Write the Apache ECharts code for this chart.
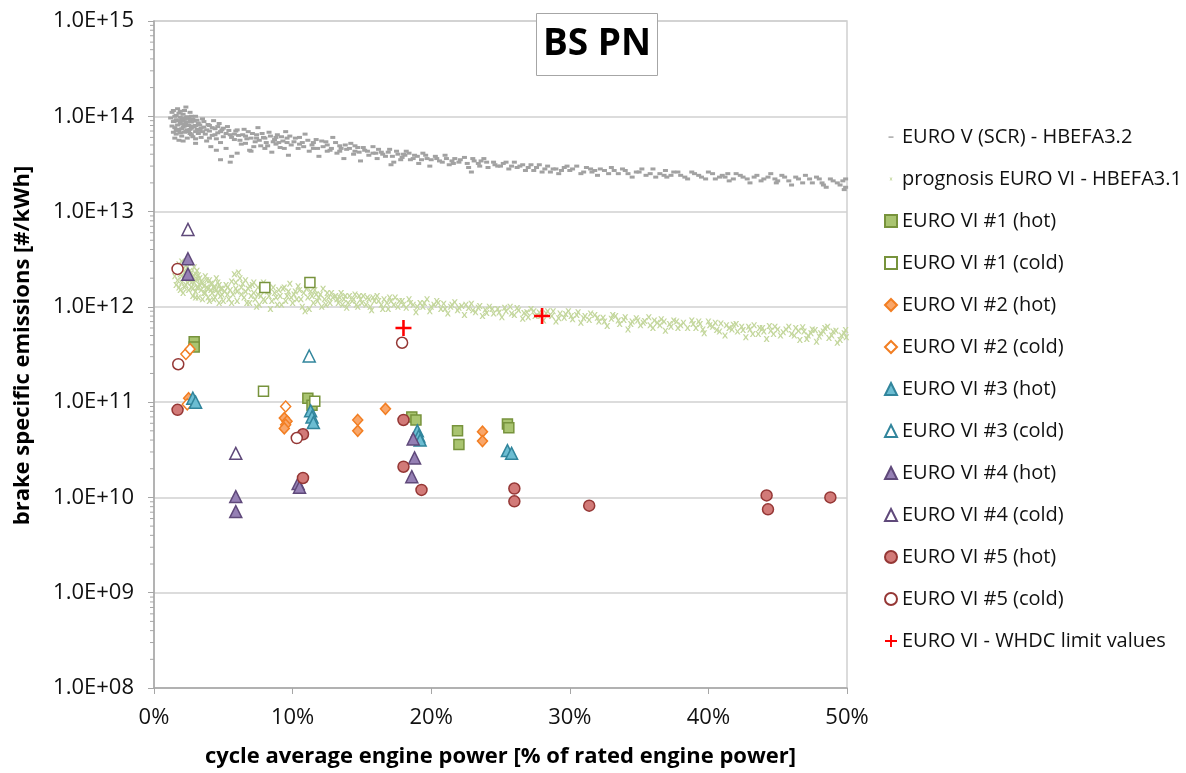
<!DOCTYPE html>
<html><head><meta charset="utf-8">
<script src="https://cdn.jsdelivr.net/npm/echarts@6/dist/echarts.min.js"></script>
<style>html,body{margin:0;padding:0;background:#fff}#c{width:1186px;height:773px}</style>
</head><body><div id="c"></div>
<script>
// ---------- data: x = cycle average engine power [% of rated], y = BS PN [#/kWh] ----------
const xTicks = [0, 10, 20, 30, 40, 50];
const yTickExponents = [8, 9, 10, 11, 12, 13, 14, 15];

const euroV_HBEFA32 = [
[1.3,1.1e14],[1.4,8.8e13],[1.5,1.0e14],[1.5,7.6e13],[1.6,6.5e13],[1.6,9.2e13],[1.7,1.2e14],[1.7,8.1e13],[1.8,7.0e13],[1.8,5.6e13],
[1.9,9.8e13],[1.9,8.6e13],[2.0,7.4e13],[2.0,6.2e13],[2.1,1.05e14],[2.1,9.0e13],[2.2,7.9e13],[2.2,6.8e13],[2.3,1.25e14],[2.3,8.4e13],
[2.4,7.2e13],[2.4,5.9e13],[2.5,9.5e13],[2.5,8.0e13],[2.6,6.6e13],[2.6,1.1e14],[2.7,8.7e13],[2.7,7.5e13],[2.8,6.1e13],[2.8,9.3e13],
[2.9,7.8e13],[3.0,1.0e14],[3.0,6.9e13],[3.0,5.2e13],[1.6,7.1e13],[2.0,8.3e13],[2.4,9.9e13],[2.7,6.4e13],[1.8,9.0e13],[2.2,1.15e14],
[1.2,9.6e13],[1.3,7.9e13],[1.4,1.15e14],[1.5,8.9e13],[1.6,1.02e14],[1.7,7.3e13],[1.8,1.08e14],[1.9,6.7e13],[2.0,9.5e13],[2.1,7.7e13],
[2.2,9.3e13],[2.3,7.0e13],[2.4,8.7e13],[2.5,6.9e13],[2.6,9.0e13],[2.7,1.0e14],[2.8,7.9e13],[2.9,8.9e13],[3.0,8.0e13],[3.1,9.1e13],
[3.2,6.6e13],[3.3,8.1e13],[3.4,7.5e13],[1.5,5.9e13],[1.9,1.13e14],[2.3,9.7e13],[2.6,7.3e13],[3.0,5.8e13],[1.4,6.8e13],[2.1,5.5e13],
[3.2,8.5e13],[3.3,7.1e13],[3.4,6.0e13],[3.5,9.4e13],[3.6,7.7e13],[3.7,6.5e13],[3.8,5.5e13],[3.9,8.2e13],[4.0,7.0e13],[4.1,4.8e13],
[4.2,6.3e13],[4.3,9.0e13],[4.4,7.4e13],[4.5,5.8e13],[4.6,6.7e13],[4.7,8.4e13],[4.8,5.3e13],[4.9,7.2e13],[5.0,6.1e13],[5.2,4.6e13],
[5.3,7.8e13],[5.5,6.4e13],[5.6,3.8e13],[5.8,5.7e13],[5.9,7.0e13],[4.8,3.5e13],[5.5,3.3e13],[3.5,6.9e13],[4.0,5.9e13],[3.1,7.3e13],
[3.6,8.8e13],[3.8,7.2e13],[4.0,8.0e13],[4.2,7.6e13],[4.4,6.4e13],[4.6,7.8e13],[4.8,6.9e13],[5.0,7.5e13],[5.2,6.6e13],[5.4,7.1e13],
[5.6,6.0e13],[5.8,6.5e13],[6.0,7.2e13],[6.2,5.6e13],[6.4,6.4e13],[6.6,5.2e13],[6.8,6.9e13],[7.0,5.9e13],[7.2,4.8e13],[7.4,6.4e13],
[7.6,5.6e13],[7.8,6.6e13],[8.0,5.9e13],[8.2,4.9e13],[8.4,6.2e13],[8.6,5.4e13],[8.8,6.0e13],[9.0,5.3e13],[9.2,6.1e13],[9.4,4.6e13],
[9.6,5.3e13],[9.8,6.2e13],[4.5,4.4e13],[6.0,4.1e13],[7.0,4.3e13],
[6.1,6.3e13],[6.3,5.1e13],[6.5,7.3e13],[6.7,5.8e13],[6.9,4.4e13],[7.1,6.6e13],[7.3,5.4e13],[7.5,7.6e13],[7.7,4.9e13],[7.9,6.0e13],
[8.1,5.3e13],[8.3,6.8e13],[8.5,4.2e13],[8.7,5.7e13],[8.9,6.4e13],[9.1,4.7e13],[9.3,5.5e13],[9.5,6.9e13],[9.7,3.9e13],[9.9,5.0e13],
[6.6,6.2e13],[7.4,5.9e13],[8.0,4.6e13],[8.8,5.1e13],[9.6,5.9e13]
];

const euroV_HBEFA32_mid = [
[10.2,5.9e13],[10.4,4.6e13],[10.7,5.3e13],[10.9,6.5e13],[11.2,4.3e13],[11.4,5.0e13],[11.7,5.7e13],[11.9,3.8e13],[12.2,4.8e13],[12.4,5.4e13],
[12.7,4.4e13],[12.9,6.0e13],[13.2,4.1e13],[13.4,4.9e13],[13.7,3.6e13],[13.9,4.5e13],[14.2,5.2e13],[14.4,4.0e13],[14.7,4.7e13],[14.9,3.4e13],
[10.5,5.1e13],[11.5,4.6e13],[12.5,4.3e13],[13.5,4.6e13],[14.5,4.3e13],
[10.1,5.4e13],[10.5,6.0e13],[10.8,4.8e13],[11.1,5.6e13],[11.5,5.3e13],[11.8,4.6e13],[12.1,5.5e13],[12.5,5.0e13],[12.8,4.6e13],[13.1,5.3e13],
[13.4,4.3e13],[13.8,5.0e13],[14.1,4.6e13],[14.5,4.9e13],[14.8,4.2e13],[15.1,4.7e13],[15.4,4.3e13],[15.8,4.1e13],[16.2,4.5e13],[16.5,4.0e13],
[16.9,4.2e13],[17.2,3.8e13],[17.5,4.3e13],[17.8,3.5e13],[18.1,3.9e13],[18.4,4.1e13],[18.7,3.6e13],[19.0,3.8e13],[19.3,3.5e13],[19.6,3.9e13],
[20.0,3.5e13],[20.4,3.6e13],[20.8,3.3e13],[21.1,3.6e13],[21.6,3.2e13],[22.1,3.5e13],[22.6,3.2e13],[23.0,3.6e13],[23.5,3.0e13],[24.0,3.3e13],[24.6,3.1e13],
[15.2,4.4e13],[15.5,3.9e13],[15.8,4.8e13],[16.1,3.6e13],[16.4,4.2e13],[16.7,3.8e13],[17.0,4.5e13],[17.3,3.3e13],[17.6,4.0e13],[17.9,3.7e13],
[18.2,4.3e13],[18.5,3.5e13],[18.8,3.9e13],[19.1,3.2e13],[19.4,4.1e13],[19.7,3.6e13],[19.9,3.0e13],[17.1,3.1e13],[16.0,4.1e13],[18.0,4.0e13],
[20.3,3.8e13],[20.6,3.4e13],[21.0,3.9e13],[21.3,3.1e13],[21.7,3.6e13],[22.0,3.3e13],[22.4,3.7e13],[22.7,2.9e13],[23.1,3.4e13],[23.4,3.2e13],
[23.8,3.6e13],[24.1,2.9e13],[24.5,3.3e13],[24.8,3.0e13],[22.9,2.6e13],[21.5,3.4e13],[23.6,3.4e13]
];

const euroV_HBEFA32_high = [
[25.2,3.2e13],[25.6,2.8e13],[26.0,3.3e13],[26.4,3.0e13],[26.8,2.7e13],[27.2,3.1e13],[27.6,2.9e13],[28.0,2.6e13],[28.4,3.0e13],[28.8,2.8e13],
[29.2,2.5e13],[29.6,2.9e13],[30.0,2.7e13],[30.5,3.0e13],[31.0,2.6e13],[31.5,2.8e13],[32.0,2.4e13],[32.5,2.7e13],[33.0,2.9e13],[33.5,2.5e13],
[34.0,2.7e13],[34.5,2.3e13],[26.2,2.9e13],[29.0,2.8e13],[31.8,2.7e13],
[25.0,3.0e13],[25.4,3.3e13],[25.8,3.0e13],[26.6,3.1e13],[27.0,2.9e13],[27.4,2.7e13],[27.8,3.1e13],[28.2,2.8e13],[28.6,2.6e13],[29.4,2.7e13],
[29.8,3.0e13],[30.2,2.8e13],[30.8,2.5e13],[31.2,2.9e13],[31.6,2.6e13],[32.2,2.8e13],[32.8,2.5e13],[33.2,2.7e13],[33.8,2.8e13],[34.2,2.5e13],
[34.8,2.6e13],[35.2,2.8e13],[35.8,2.5e13],[36.2,2.3e13],[36.9,2.7e13],[37.3,2.4e13],[37.8,2.6e13],[38.3,2.3e13],[38.8,2.6e13],[39.3,2.4e13],
[39.8,2.2e13],[40.3,2.5e13],[40.8,2.3e13],[41.4,2.5e13],[41.8,2.2e13],[42.3,2.4e13],[42.8,2.2e13],[43.3,2.3e13],[43.8,2.1e13],[44.3,2.3e13],
[44.9,2.0e13],[45.3,2.4e13],[45.8,2.1e13],[46.3,2.3e13],[46.8,2.0e13],[47.3,2.2e13],[47.8,2.3e13],[48.3,1.9e13],[48.8,2.2e13],[49.3,2.0e13],
[49.7,2.1e13],[49.9,1.8e13],
[35.0,2.6e13],[35.5,2.4e13],[36.0,2.8e13],[36.5,2.5e13],[37.0,2.3e13],[37.5,2.6e13],[38.0,2.4e13],[38.5,2.2e13],[39.0,2.5e13],[39.5,2.3e13],
[40.0,2.6e13],[40.5,2.2e13],[41.0,2.4e13],[41.5,2.1e13],[42.0,2.5e13],[42.5,2.3e13],[43.0,2.0e13],[43.5,2.4e13],[44.0,2.2e13],[44.5,2.5e13],
[45.0,2.1e13],[45.5,2.3e13],[46.0,1.9e13],[46.5,2.2e13],[47.0,2.4e13],[47.5,2.0e13],[48.0,2.2e13],[48.5,1.8e13],[49.0,2.1e13],[49.5,1.9e13],
[49.9,2.2e13],[49.8,1.7e13],[36.8,2.4e13],[41.2,2.3e13],[44.8,2.2e13],[48.2,2.0e13]
];

const prognosis_low = [
[1.6,2.4e12],[1.7,1.9e12],[1.8,2.8e12],[1.8,1.6e12],[1.9,2.2e12],[2.0,3.0e12],[2.0,1.8e12],[2.1,2.5e12],[2.1,1.4e12],[2.2,2.0e12],
[2.3,2.7e12],[2.3,1.7e12],[2.4,2.2e12],[2.5,1.5e12],[2.5,2.9e12],[2.6,1.9e12],[2.6,2.4e12],[2.7,1.6e12],[2.8,2.1e12],[2.8,1.3e12],
[2.9,2.6e12],[2.9,1.8e12],[3.0,2.2e12],[3.0,1.45e12],[3.1,1.95e12],[3.1,2.4e12],[3.2,1.6e12],[3.2,1.25e12],[3.3,2.0e12],[3.3,1.7e12],
[1.5,2.1e12],[1.6,1.7e12],[1.7,2.6e12],[1.9,1.5e12],[1.9,2.5e12],[2.0,2.1e12],[2.2,1.6e12],[2.2,2.3e12],[2.4,1.8e12],[2.4,2.6e12],
[2.5,2.1e12],[2.7,1.8e12],[2.7,2.3e12],[2.8,1.55e12],[3.0,1.9e12],[3.0,1.25e12],[3.1,1.6e12],[3.2,2.15e12],[3.4,1.5e12],[3.4,1.85e12],
[3.5,1.2e12],[3.6,1.65e12],[3.7,1.4e12],[3.8,1.9e12],[3.9,1.55e12],[4.0,1.15e12],[4.1,1.75e12],[4.2,1.4e12],[4.3,1.6e12],[4.4,1.25e12],
[4.5,1.5e12],[4.6,1.8e12],[4.7,1.1e12],[4.8,1.55e12],[4.9,1.35e12],
[3.5,1.8e12],[3.6,1.4e12],[3.7,2.1e12],[3.8,1.6e12],[3.9,1.25e12],[4.0,1.9e12],[4.1,1.5e12],[4.2,1.75e12],[4.3,1.2e12],[4.4,1.6e12],
[4.5,2.0e12],[4.6,1.4e12],[4.7,1.7e12],[4.8,1.3e12],[4.9,1.55e12],[5.0,1.15e12],[5.2,1.7e12],[5.3,1.35e12],[5.5,1.5e12],[5.6,1.1e12],
[5.1,1.45e12],[5.3,1.6e12],[5.4,1.2e12],[5.6,1.85e12],[5.7,1.35e12],[5.9,1.55e12],[6.0,1.15e12],[6.1,2.3e12],[6.3,1.35e12],[6.4,1.75e12],
[6.6,1.45e12],[6.7,1.1e12],[6.9,1.65e12],[7.0,1.3e12],[7.2,1.8e12],[7.3,1.2e12],[7.5,1.35e12],[7.6,1.05e12],[7.8,1.5e12],[7.9,1.2e12],
[8.1,1.6e12],[8.3,1.3e12],[8.5,1.15e12],[8.7,1.4e12],[8.9,1.05e12],[9.1,1.3e12],[9.3,1.55e12],[9.5,1.15e12],[9.7,1.45e12],[9.9,1.25e12],
[5.8,2.2e12],[5.9,1.8e12],[6.0,1.45e12],[6.2,2.0e12],[6.3,1.6e12],[6.5,1.25e12],[6.6,1.9e12],[6.8,1.55e12],[6.9,1.1e12],[7.1,1.7e12],
[7.2,1.4e12],[7.4,1.0e12],[7.5,1.6e12],[7.7,1.3e12],[7.9,1.8e12],[8.0,1.15e12],[8.2,1.45e12],[8.4,0.95e12],[8.6,1.6e12],[8.8,1.25e12],
[9.0,1.5e12],[9.2,1.05e12]
];

const prognosis_mid = [
[9.4,1.6e12],[9.6,1.3e12],[9.8,1.75e12],[10.0,1.1e12],[10.2,1.45e12],[10.4,1.65e12],[10.6,1.2e12],[10.8,1.4e12],[11.0,1.55e12],[11.2,0.95e12],
[11.4,1.3e12],[11.6,1.5e12],[11.8,1.15e12],[12.0,1.35e12],[12.2,1.55e12],[12.4,1.05e12],[12.6,1.25e12],[12.8,1.4e12],[10.9,0.9e12],[12.1,1.0e12],
[10.1,1.35e12],[10.3,1.2e12],[10.5,1.5e12],[10.7,1.0e12],[11.1,1.25e12],[11.3,1.45e12],[11.5,1.1e12],[11.7,1.35e12],[11.9,1.25e12],[12.3,1.2e12],
[12.5,1.4e12],[12.7,1.1e12],[12.9,1.25e12],[13.2,1.2e12],[13.4,1.25e12],[13.6,1.05e12],[13.8,1.3e12],[14.0,1.1e12],[14.4,1.2e12],[14.6,1.05e12],
[14.8,1.3e12],[15.0,1.1e12],[15.4,1.25e12],[15.6,1.0e12],[15.8,1.25e12],[16.2,1.15e12],[16.5,0.95e12],[16.8,1.1e12],[17.0,1.25e12],[17.3,1.05e12],
[17.7,1.15e12],[18.0,1.05e12],[18.5,1.1e12],[19.0,1.0e12],[19.5,1.1e12],
[13.1,1.3e12],[13.3,1.1e12],[13.5,1.4e12],[13.7,1.2e12],[13.9,0.98e12],[14.1,1.3e12],[14.3,1.15e12],[14.5,1.35e12],[14.7,1.0e12],[14.9,1.2e12],
[15.1,1.3e12],[15.3,1.05e12],[15.5,1.2e12],[15.7,0.92e12],[15.9,1.15e12],[16.1,1.3e12],[16.4,1.05e12],[16.6,1.2e12],[16.9,0.95e12],[17.1,1.15e12],
[17.4,1.25e12],[17.6,1.0e12],
[17.9,1.15e12],[18.2,0.98e12],[18.4,1.2e12],[18.7,1.05e12],[18.9,0.88e12],[19.2,1.1e12],[19.4,1.0e12],[19.7,1.2e12],[19.9,0.9e12],[20.2,1.05e12],
[20.4,1.15e12],[20.7,0.95e12],[20.9,1.08e12],[21.2,0.85e12],[21.4,1.0e12],[21.7,1.12e12],[21.9,0.92e12],[22.2,1.02e12],[22.4,0.82e12],[22.7,0.97e12],
[22.9,1.08e12],[23.2,0.88e12],[23.4,0.98e12],[23.7,0.8e12],[23.9,0.93e12],
[20.0,1.0e12],[20.5,1.1e12],[21.0,0.95e12],[21.5,1.05e12],[22.0,0.98e12],[22.5,1.05e12],[23.0,0.92e12],[23.5,1.02e12],[24.0,0.86e12],[24.4,0.95e12]
];

const prognosis_high = [
[24.2,1.0e12],[24.5,0.85e12],[24.8,0.95e12],[25.1,0.78e12],[25.4,0.9e12],[25.7,1.0e12],[26.0,0.82e12],[26.3,0.92e12],[26.6,0.75e12],[26.9,0.88e12],
[27.2,0.95e12],[27.5,0.8e12],[27.8,0.87e12],[28.1,0.72e12],[28.4,0.9e12],[28.7,0.8e12],[29.0,0.7e12],[29.3,0.85e12],[29.6,0.77e12],[29.9,0.9e12],
[30.2,0.74e12],[30.5,0.82e12],[30.8,0.68e12],[31.1,0.8e12],[31.4,0.73e12],
[24.9,0.87e12],[25.3,0.98e12],[25.8,0.85e12],[26.2,0.97e12],[26.7,0.86e12],[27.0,0.78e12],[27.4,0.9e12],[27.9,0.8e12],[28.3,0.85e12],[28.8,0.9e12],
[29.2,0.76e12],[29.7,0.84e12],[30.1,0.8e12],[30.6,0.88e12],[31.0,0.76e12],[31.5,0.85e12],[32.0,0.77e12],[32.5,0.7e12],[33.1,0.82e12],[33.5,0.72e12],
[34.0,0.78e12],[34.4,0.66e12],[34.9,0.72e12],[35.3,0.68e12],[35.8,0.64e12],
[31.8,0.82e12],[32.1,0.7e12],[32.4,0.77e12],[32.7,0.63e12],[33.0,0.75e12],[33.3,0.8e12],[33.6,0.66e12],[33.9,0.73e12],[34.2,0.58e12],[34.5,0.7e12],
[34.8,0.76e12],[35.1,0.64e12],[35.4,0.71e12],[35.7,0.78e12],[36.0,0.6e12],[36.3,0.68e12],[36.6,0.74e12],[36.9,0.56e12],[37.2,0.66e12],[37.5,0.72e12],
[37.8,0.6e12],[38.2,0.68e12],
[36.1,0.72e12],[36.5,0.64e12],[36.8,0.7e12],[37.3,0.62e12],[37.7,0.7e12],[38.0,0.64e12],[38.5,0.6e12],[38.9,0.66e12],[39.3,0.7e12],[39.6,0.58e12],
[40.1,0.64e12],[40.5,0.68e12],[40.8,0.55e12],[41.3,0.64e12],[41.7,0.58e12],[42.0,0.66e12],[42.5,0.57e12],[42.9,0.62e12],[43.2,0.52e12],[43.7,0.6e12],
[44.0,0.55e12],[44.4,0.63e12],[44.7,0.52e12],[45.0,0.58e12],[45.4,0.54e12],[45.8,0.62e12],[46.2,0.5e12],[46.5,0.56e12],[46.8,0.61e12],[47.1,0.46e12],
[47.4,0.53e12],[47.7,0.57e12],[48.0,0.49e12],[48.3,0.55e12],[48.6,0.62e12],[48.9,0.5e12],[49.2,0.56e12],[49.5,0.45e12],[49.8,0.53e12],[49.95,0.48e12],
[38.8,0.72e12],[39.1,0.6e12],[39.4,0.66e12],[39.7,0.53e12],[40.0,0.7e12],[40.3,0.62e12],[40.6,0.57e12],[40.9,0.67e12],[41.2,0.5e12],[41.5,0.6e12],
[41.8,0.65e12],[42.1,0.55e12],[42.4,0.62e12],[42.7,0.48e12],[43.0,0.58e12],[43.3,0.64e12],[43.6,0.52e12],[43.9,0.6e12],[44.2,0.46e12],[44.5,0.56e12],
[44.8,0.62e12],[45.2,0.5e12],
[45.6,0.58e12],[46.0,0.52e12],[46.3,0.6e12],[46.6,0.45e12],[46.9,0.55e12],[47.2,0.5e12],[47.5,0.58e12],[47.8,0.43e12],[48.1,0.53e12],[48.4,0.6e12],
[48.7,0.47e12],[49.0,0.55e12],[49.3,0.42e12],[49.6,0.5e12],[49.9,0.57e12]
];

const euroVI_1_hot  = [[2.9,4.3e11],[2.9,3.8e11],[11.1,1.1e11],[11.4,9.3e10],[18.6,7.0e10],[18.9,6.5e10],[21.9,5.0e10],[22.0,3.6e10],[25.5,5.9e10],[25.6,5.4e10]];
const euroVI_1_cold = [[8.0,1.6e12],[11.25,1.8e12],[7.9,1.3e11],[11.6,1.02e11]];
const euroVI_2_hot  = [[2.5,1.1e11],[9.4,6.8e10],[9.6,6.3e10],[9.5,5.8e10],[9.4,5.3e10],[14.7,6.5e10],[14.7,5.0e10],[16.7,8.5e10],[23.7,4.9e10],[23.7,3.9e10]];
const euroVI_2_cold = [[2.3,3.2e11],[2.6,3.6e11],[2.4,9.5e10],[9.5,9.0e10]];
const euroVI_3_hot  = [[2.8,1.1e11],[3.0,1.0e11],[11.3,8.1e10],[11.4,7.0e10],[11.5,6.1e10],[19.0,5.0e10],[19.1,4.4e10],[19.2,4.0e10],[25.5,3.1e10],[25.8,2.9e10]];
const euroVI_3_cold = [[11.2,3.05e11]];
const euroVI_4_hot  = [[2.45,3.2e12],[2.45,2.2e12],[5.9,1.02e10],[5.9,7.1e9],[10.4,1.4e10],[10.5,1.28e10],[18.7,4.1e10],[18.8,2.6e10],[18.6,1.65e10]];
const euroVI_4_cold = [[2.45,6.5e12],[5.9,2.9e10]];
const euroVI_5_hot  = [[1.7,8.3e10],[10.75,4.6e10],[10.75,1.6e10],[18.0,6.5e10],[18.0,2.1e10],[19.3,1.2e10],[26.0,1.24e10],[26.0,9.1e9],[31.4,8.2e9],[44.2,1.05e10],[44.3,7.5e9],[48.8,1.0e10]];
const euroVI_5_cold = [[1.7,2.5e12],[1.75,2.5e11],[17.9,4.2e11],[10.3,4.2e10]];
const whdcLimit     = [[18.0,6.0e11],[28.0,8.0e11]];

const seriesNames = [
  'EURO V (SCR) - HBEFA3.2', 'prognosis EURO VI - HBEFA3.1',
  'EURO VI #1 (hot)', 'EURO VI #1 (cold)', 'EURO VI #2 (hot)', 'EURO VI #2 (cold)',
  'EURO VI #3 (hot)', 'EURO VI #3 (cold)', 'EURO VI #4 (hot)', 'EURO VI #4 (cold)',
  'EURO VI #5 (hot)', 'EURO VI #5 (cold)', 'EURO VI - WHDC limit values'
];

// minor log ticks on y axis (2..9 within every decade)
const minorTickValues = [];
for (let e = 8; e < 15; e++) for (let m = 2; m <= 9; m++) minorTickValues.push([0, m * Math.pow(10, e)]);

// ---------- styling ----------
const FONT = 'Open Sans';
const crossPath = 'path://M4.2,0h1.6v4.2h4.2v1.6h-4.2v4.2h-1.6v-4.2h-4.2v-1.6h4.2z';
const xPath = 'path://M0,0h2.5l2.5,3.5l2.5,-3.5h2.5l-3.5,5l3.5,5h-2.5l-2.5,-3.5l-2.5,3.5h-2.5l3.5,-5z';
const dashIcon = 'path://M0,0M12,12M3.5,5.4h5v1.4h-5z';
const xIcon = 'path://M0,0M12,12M4.5,4.5h1l0.5,0.7l0.5,-0.7h1l-1,1.5l1,1.5h-1l-0.5,-0.7l-0.5,0.7h-1l1,-1.5z';

function sc(name, data, symbol, size, fill, border, bw, z) {
  return { name, type: 'scatter', data, symbol, symbolSize: size, z: z || 2, large: false,
    itemStyle: { color: fill, borderColor: border, borderWidth: bw, opacity: 1 }, silent: true, animation: false };
}

const G = { c: '#77933c', f: '#a9c470' };
const O = { c: '#f27e22', f: '#f9a669' };
const T = { c: '#31859c', f: '#6cbdd2' };
const P = { c: '#5f497a', f: '#9580b4' };
const R = { c: '#953735', f: '#d27a78' };
const GRAY = '#a2a2a2', LGREEN = '#c4d79d';

const series = [
  sc(seriesNames[0], euroV_HBEFA32.concat(euroV_HBEFA32_mid, euroV_HBEFA32_high), 'rect', [5, 3], GRAY, 'none', 0, 1),
  sc(seriesNames[1], prognosis_low.concat(prognosis_mid, prognosis_high), xPath, 6, LGREEN, 'none', 0, 1),
  sc(seriesNames[2], euroVI_1_hot, 'rect', 10, G.f, G.c, 1.5),
  sc(seriesNames[3], euroVI_1_cold, 'rect', 10, '#ffffff', G.c, 1.5),
  sc(seriesNames[4], euroVI_2_hot, 'diamond', [10, 11], O.f, O.c, 1.5),
  sc(seriesNames[5], euroVI_2_cold, 'diamond', [10, 11], '#ffffff', O.c, 1.5),
  sc(seriesNames[6], euroVI_3_hot, 'triangle', 12, T.f, T.c, 1.5),
  sc(seriesNames[7], euroVI_3_cold, 'triangle', 12, '#ffffff', T.c, 1.5),
  sc(seriesNames[8], euroVI_4_hot, 'triangle', 12, P.f, P.c, 1.5),
  sc(seriesNames[9], euroVI_4_cold, 'triangle', 12, '#ffffff', P.c, 1.5),
  sc(seriesNames[10], euroVI_5_hot, 'circle', 11, R.f, R.c, 1.5),
  sc(seriesNames[11], euroVI_5_cold, 'circle', 11, '#ffffff', R.c, 1.5),
  sc(seriesNames[12], whdcLimit, crossPath, 16, '#ff0000', 'none', 0, 3),
  { type: 'custom', data: minorTickValues, silent: true, animation: false, clip: false, z: 5,
    renderItem: function (params, api) {
      const p = api.coord([api.value(0), api.value(1)]);
      return { type: 'line', shape: { x1: p[0] - 4, y1: p[1], x2: p[0], y2: p[1] }, style: { stroke: '#a6a6a6', lineWidth: 1 } };
    } }
];

const legendData = seriesNames.map((n, i) => {
  if (i === 0) return { name: n, icon: dashIcon };
  if (i === 1) return { name: n, icon: xIcon };
  return { name: n };
});

const chart = echarts.init(document.getElementById('c'), null, { renderer: 'canvas' });
chart.setOption({
  backgroundColor: '#ffffff',
  animation: false,
  textStyle: { fontFamily: FONT },
  title: {
    text: 'BS PN', left: 536, top: 13,
    padding: [11, 7, 12, 7], borderWidth: 1, borderColor: '#a6a6a6', backgroundColor: '#ffffff',
    textStyle: { fontFamily: FONT, fontWeight: 'bold', fontSize: 37, lineHeight: 40, color: '#000' }
  },
  grid: { left: 154, right: 339, top: 21, bottom: 83, show: true, borderColor: '#d0d0d0', borderWidth: 1.5, containLabel: false },
  legend: {
    orient: 'vertical', left: 879, top: 122, itemWidth: 12, itemHeight: 12, itemGap: 22,
    textStyle: { fontFamily: FONT, fontSize: 20, color: '#111' },
    data: legendData, selectedMode: false
  },
  xAxis: {
    type: 'value', min: 0, max: 50, interval: 10,
    axisLine: { show: true, lineStyle: { color: '#a6a6a6', width: 1.5 } },
    axisTick: { show: true, length: 6, lineStyle: { color: '#a6a6a6' } },
    splitLine: { show: false },
    axisLabel: { margin: 19, fontFamily: FONT, fontSize: 22, color: '#111', formatter: '{value}%' },
    name: 'cycle average engine power [% of rated engine power]', nameLocation: 'middle', nameGap: 58,
    nameTextStyle: { fontFamily: FONT, fontWeight: 'bold', fontSize: 22, color: '#000' }
  },
  yAxis: {
    type: 'log', logBase: 10, min: 1e8, max: 1e15, splitNumber: 7,
    axisLine: { show: true, lineStyle: { color: '#a6a6a6', width: 1.5 } },
    axisTick: { show: true, length: 6, lineStyle: { color: '#a6a6a6' } },
    splitLine: { show: true, lineStyle: { color: '#d0d0d0', width: 1.5 } },
    axisLabel: { margin: 20, fontFamily: FONT, fontSize: 22, color: '#111',
      formatter: v => '1.0E+' + String(Math.round(Math.log10(v))).padStart(2, '0') },
    name: 'brake specific emissions [#/kWh]', nameLocation: 'middle', nameGap: 120,
    nameTextStyle: { fontFamily: FONT, fontWeight: 'bold', fontSize: 22, color: '#000', padding: [0, 0, 0, 18] }
  },
  series
});
</script></body></html>
